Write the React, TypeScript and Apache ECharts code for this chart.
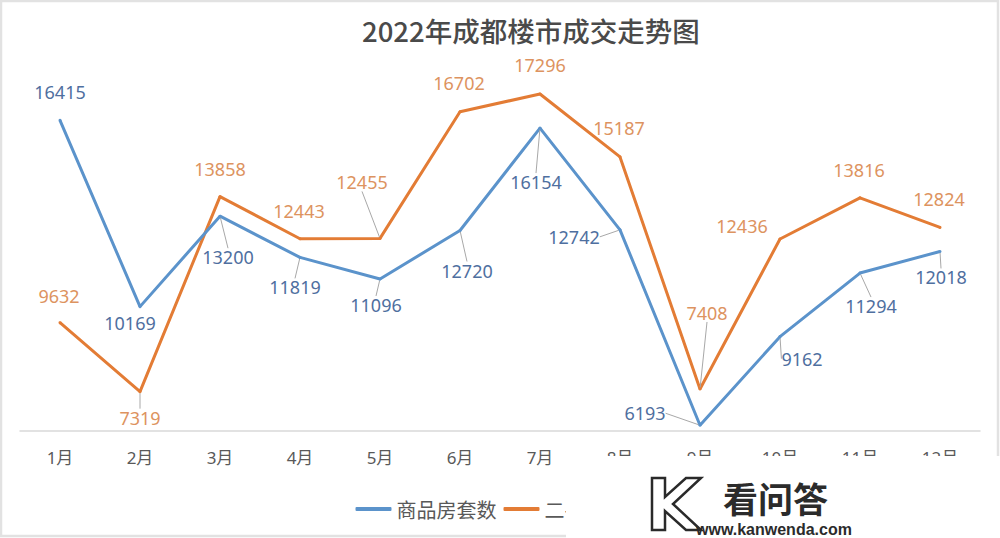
import React, { useEffect, useRef } from "react";
import * as echarts from "echarts";

const titleText = "2022年成都楼市成交走势图";
const months = ["1月", "2月", "3月", "4月", "5月", "6月", "7月", "8月", "9月", "10月", "11月", "12月"];
const seriesNames = ["商品房套数", "二手房套数"];
const newHomeSales = [16415, 10169, 13200, 11819, 11096, 12720, 16154, 12742, 6193, 9162, 11294, 12018];
const resaleSales = [9632, 7319, 13858, 12443, 12455, 16702, 17296, 15187, 7408, 12436, 13816, 12824];

// label placement (offset of the label centre from its point) and leader-line flags
const newHomeLabelShift = [[0, -28], [-10, 16], [8, 41], [-5, 30], [-4, 26], [7, 40], [-4, 54], [-46, 7], [-55, -12], [22, 22], [11, 33], [1, 26]];
const newHomeLeader = [false, false, true, true, true, true, true, true, true, true, true, true];
const resaleLabelShift = [[-1, -27], [0, 26], [0, -28], [-1, -28], [-18, -56], [-1, -29], [0, -29], [-1, -29], [7, -76], [-38, -13], [-1, -28], [-1, -28]];
const resaleLeader = [false, true, false, false, true, false, false, false, true, false, false, false];

const BLUE = "#5b93cb";
const ORANGE = "#e37c35";
const BLUE_TEXT = "#4f6f9f";
const ORANGE_TEXT = "#dd9360";
const FONT = "'Noto Sans', 'Noto Sans CJK SC', sans-serif";

const shifts = [newHomeLabelShift, resaleLabelShift];

function buildData(values: number[], leaders: boolean[]) {
  return values.map((v, i) => ({
    value: v,
    labelLine: { show: leaders[i] },
  }));
}

export default function App() {
  const ref = useRef<HTMLDivElement>(null);
  useEffect(() => {
    if (!ref.current) return;
    const chart = echarts.init(ref.current, undefined, { renderer: "svg" });
    const mkSeries = (idx: number, values: number[], leaders: boolean[], color: string, textColor: string) => ({
      type: "line",
      name: seriesNames[idx],
      data: buildData(values, leaders),
      symbol: "circle",
      symbolSize: 3,
      showSymbol: true,
      itemStyle: { color },
      lineStyle: { color, width: 3 },
      z: idx === 0 ? 3 : 2,
      label: {
        show: true,
        position: "inside",
        color: textColor,
        fontSize: 18,
        fontFamily: FONT,
      },
      labelLine: {
        show: false,
        lineStyle: { color: "#a8a8a8", width: 1 },
      },
      labelLayout: (params: any) => {
        const s = shifts[params.seriesIndex][params.dataIndex];
        return { dx: s[0], dy: s[1] };
      },
    });
    chart.setOption({
      animation: false,
      backgroundColor: "#ffffff",
      title: {
        text: titleText,
        left: 357,
        top: 11,
        textStyle: { fontSize: 27.5, fontWeight: 500, color: "#4a4a4a", fontFamily: "'Noto Sans CJK SC', sans-serif" },
      },
      legend: {
        data: seriesNames,
        left: "center",
        top: 494,
        icon: "roundRect",
        itemWidth: 36,
        itemHeight: 4,
        itemGap: 7,
        textStyle: { fontSize: 20, color: "#595959", fontFamily: "'Noto Sans CJK SC', sans-serif" },
      },
      grid: { left: 20, right: 20, top: 73, bottom: 107 },
      xAxis: {
        type: "category",
        data: months,
        boundaryGap: true,
        axisLine: { lineStyle: { color: "#d9d9d9", width: 1.5 } },
        axisTick: { show: false },
        axisLabel: { color: "#595959", fontSize: 17, margin: 18, fontFamily: FONT },
      },
      yAxis: {
        type: "value",
        min: 6000,
        max: 18000,
        show: false,
        splitLine: { show: false },
      },
      series: [
        mkSeries(0, newHomeSales, newHomeLeader, BLUE, BLUE_TEXT),
        mkSeries(1, resaleSales, resaleLeader, ORANGE, ORANGE_TEXT),
      ],
      graphic: [
        {
          type: "rect",
          z: 100,
          shape: { x: 1, y: 1, width: 997, height: 535 },
          style: { fill: "none", stroke: "#e2e2e2", lineWidth: 2.5 },
          silent: true,
        },
        {
          type: "rect",
          z: 101,
          shape: { x: 566, y: 456, width: 434, height: 82 },
          style: { fill: "#ffffff" },
          silent: true,
        },
        {
          type: "polygon",
          z: 102,
          shape: {
            points: [[652, 478], [665, 478], [665, 497], [686, 478], [701, 478], [673, 504], [701, 530], [686, 530], [665, 511], [665, 530], [652, 530]],
          },
          style: { fill: "#ffffff", stroke: "#2a2a2a", lineWidth: 2.5 },
          silent: true,
        },
        {
          type: "text",
          z: 102,
          x: 723,
          y: 497,
          style: {
            text: "看问答",
            fill: "#2b2b2b",
            fontSize: 35,
            lineHeight: 34,
            fontWeight: "bold",
            fontFamily: "'Noto Sans CJK SC', sans-serif",
            verticalAlign: "middle",
            align: "left",
          },
          silent: true,
        },
        {
          type: "text",
          z: 102,
          x: 696,
          y: 529,
          style: {
            text: "www.kanwenda.com",
            fill: "#2b2b2b",
            fontSize: 16,
            lineHeight: 14,
            fontWeight: "bold",
            fontFamily: "'Liberation Sans', Arial, sans-serif",
            verticalAlign: "middle",
            align: "left",
          },
          silent: true,
        },
      ],
    });
    return () => chart.dispose();
  }, []);
  return <div ref={ref} style={{ position: "absolute", left: 0, top: 0, width: 1000, height: 538 }} />;
}
